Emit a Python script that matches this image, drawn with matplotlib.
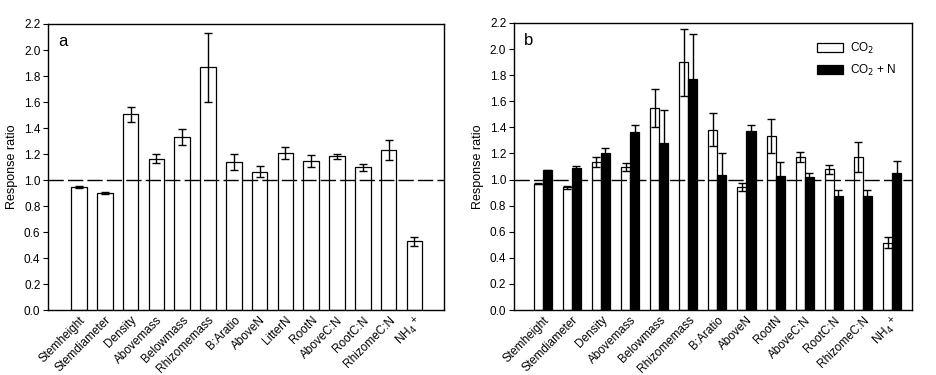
import matplotlib
matplotlib.use('Agg')
import matplotlib.pyplot as plt
from matplotlib.patches import Patch
import numpy as np

plt.rcParams['font.family'] = ['Liberation Sans', 'DejaVu Sans']

# panel a
labels_a = ['Stemheight', 'Stemdiameter', 'Density', 'Abovemass', 'Belowmass',
            'Rhizomemass', 'B:Aratio', 'AboveN', 'LitterN', 'RootN',
            'AboveC:N', 'RootC:N', 'RhizomeC:N', 'NH$_4$$^+$']
resp_a = [0.946, 0.90, 1.505, 1.164, 1.331, 1.867, 1.136, 1.064, 1.21, 1.144,
          1.182, 1.097, 1.228, 0.528]
err_a = [0.005, 0.007, 0.06, 0.034, 0.064, 0.264, 0.062, 0.043, 0.047, 0.046,
         0.017, 0.028, 0.077, 0.037]

# panel b
labels_b = ['Stemheight', 'Stemdiameter', 'Density', 'Abovemass', 'Belowmass',
            'Rhizomemass', 'B:Aratio', 'AboveN', 'RootN', 'AboveC:N',
            'RootC:N', 'RhizomeC:N', 'NH$_4$$^+$']
co2 = [0.969, 0.94, 1.136, 1.097, 1.551, 1.90, 1.382, 0.945, 1.331, 1.174,
       1.079, 1.174, 0.515]
co2_err = [0.005, 0.012, 0.039, 0.03, 0.146, 0.257, 0.125, 0.03, 0.131, 0.039,
           0.033, 0.115, 0.043]
co2n = [1.072, 1.09, 1.205, 1.367, 1.282, 1.769, 1.038, 1.374, 1.028, 1.021,
        0.872, 0.877, 1.054]
co2n_err = [0.005, 0.017, 0.04, 0.05, 0.254, 0.35, 0.167, 0.044, 0.105, 0.03,
            0.048, 0.043, 0.09]

fs = 8.5
fig = plt.figure(figsize=(9.36, 3.75), dpi=100)
ax1 = fig.add_axes([0.0513, 0.1733, 0.4231, 0.7627])
ax2 = fig.add_axes([0.549, 0.1733, 0.4252, 0.7654])

def style(axis, letter):
    axis.set_ylim(0, 2.2)
    axis.set_yticks(np.arange(0, 2.21, 0.2))
    axis.set_yticklabels(['%.1f' % v for v in np.arange(0, 2.21, 0.2)], fontsize=fs)
    axis.tick_params(axis='y', direction='out', length=3.5, width=0.8, pad=2)
    axis.tick_params(axis='x', length=0, pad=3)
    for s in axis.spines.values():
        s.set_linewidth(1.0)
    axis.axhline(1.0, color='black', lw=1.0, dashes=(11, 3), zorder=5)
    axis.set_ylabel('Response ratio', fontsize=9, labelpad=4)
    axis.text(0.025, 0.965, letter, transform=axis.transAxes, fontsize=12,
              va='top', ha='left')

x = np.arange(len(labels_a))
ax1.bar(x, resp_a, width=0.6, color='white', edgecolor='black', linewidth=0.9,
        yerr=err_a, error_kw=dict(ecolor='black', elinewidth=1.0, capsize=3, capthick=1.0))
ax1.set_xlim(-1.2, 14.15)
ax1.set_xticks(x)
ax1.set_xticklabels(labels_a, rotation=45, ha='right', rotation_mode='anchor', fontsize=fs)
style(ax1, 'a')

xb = np.arange(len(labels_b))
w = 0.31
ax2.bar(xb - w / 2, co2, width=w, color='white', edgecolor='black', linewidth=0.9,
        yerr=co2_err, error_kw=dict(ecolor='black', elinewidth=1.0, capsize=3, capthick=1.0))
ax2.bar(xb + w / 2, co2n, width=w, color='black', edgecolor='black', linewidth=0.9,
        yerr=co2n_err, error_kw=dict(ecolor='black', elinewidth=1.0, capsize=3, capthick=1.0))
ax2.set_xlim(-0.99, 12.68)
ax2.set_xticks(xb)
ax2.set_xticklabels(labels_b, rotation=45, ha='right', rotation_mode='anchor', fontsize=fs)
style(ax2, 'b')

handles = [Patch(facecolor='white', edgecolor='black', linewidth=0.9),
           Patch(facecolor='black', edgecolor='black', linewidth=0.9)]
ax2.legend(handles, ['CO$_2$', 'CO$_2$ + N'], loc='upper left', bbox_to_anchor=(0.735, 0.975),
           frameon=False, fontsize=fs, handlelength=2.2, handleheight=0.8,
           labelspacing=0.6, handletextpad=0.6)

fig.savefig('out.png', dpi=100)
